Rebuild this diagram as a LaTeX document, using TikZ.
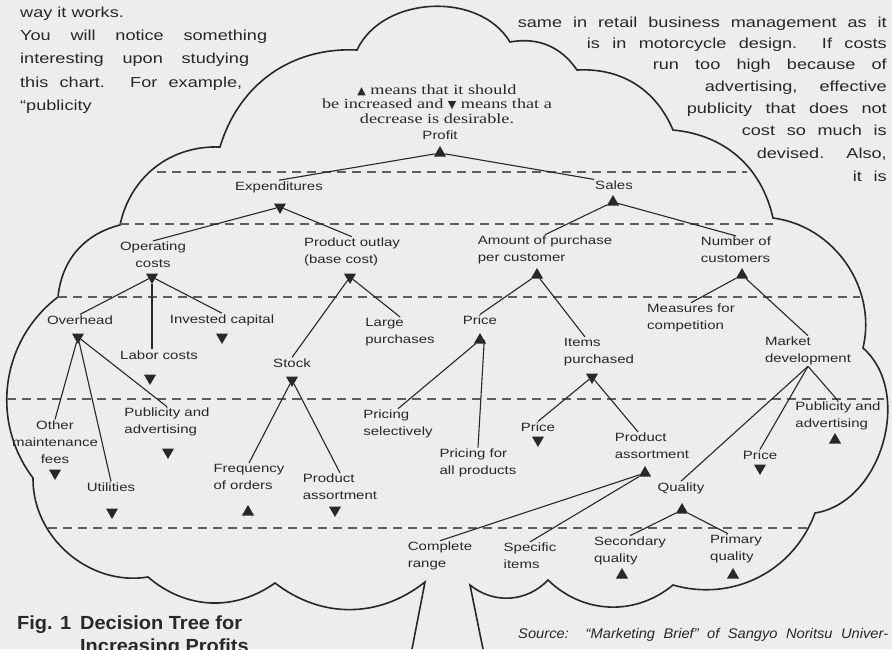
\documentclass[tikz,border=0pt]{standalone}
\usepackage{fontspec}
\setmainfont{Liberation Sans}[FakeStretch=1.25]
\newfontfamily\legendfont{Liberation Serif}[FakeStretch=1.3]
\newfontfamily\capfont{Liberation Sans}[FakeStretch=1.05]
\newfontfamily\symfont{DejaVu Sans}
\usetikzlibrary{shapes.geometric}

\definecolor{paper}{RGB}{237,237,235}
\definecolor{ink}{RGB}{40,40,40}

\begin{document}
\begin{tikzpicture}[x=1pt,y=-1pt,
  lbl/.style={font=\fontsize{12}{17}\selectfont,text=ink,inner sep=1pt,align=left},
  incr/.style={regular polygon,regular polygon sides=3,fill=ink,inner sep=0pt,minimum size=14pt},
  decr/.style={incr,shape border rotate=180},
  body/.style={font=\fontsize{14.5}{22}\selectfont,text=ink,inner sep=0pt},
  caption/.style={font=\capfont\bfseries\fontsize{19}{22}\selectfont,text=ink,inner sep=0pt},
  link/.style={draw=ink,line width=1.1pt},
  guide/.style={draw=ink!75,line width=1.2pt,dash pattern=on 9pt off 6pt},
  cloud/.style={draw=ink,line width=1.6pt}]

  \fill[paper] (0,0) rectangle (892,649);
  \useasboundingbox (0,0) rectangle (892,649);

  \draw[cloud] (412,649) -- (425,582)
    to[bend left=38] (275,583)
    to[bend left=38] (148,577)
    to[bend left=50] (33,478)
    to[bend left=45] (58,297)
    to[bend left=35] (120,225)
    to[bend left=40] (220,147)
    to[bend left=38] (357,50)
    to[bend left=62] (510,42)
    to[bend left=33] (577,70)
    to[bend left=35] (673,130)
    to[bend left=36] (773,218)
    to[bend left=48] (863,348)
    to[bend left=65] (815,513)
    to[bend left=43] (673,585)
    to[bend left=42] (548,580)
    to[bend left=43] (470,585)
    -- (483,649);

  \draw[guide] (157,172) -- (747,172);
  \draw[guide] (120,224) -- (773,224);
  \draw[guide] (58,297) -- (860,297);
  \draw[guide] (7,399) -- (884,399);
  \draw[guide] (48,528) -- (808,528);

  \node[lbl,align=center,font=\legendfont\fontsize{14}{14.5}\selectfont] (key) at (437,104)
    {{\symfont\fontsize{11}{11}\selectfont ▲} means that it should\\
     be increased and {\symfont\fontsize{11}{11}\selectfont ▼} means that a\\
     decrease is desirable.};

  \node[lbl] (profit) at (440,135) {Profit};
  \node[incr] (profitm) at (440,153) {};
  \node[lbl] (exp) at (279,187) {Expenditures};
  \node[decr] (expm) at (280,207) {};
  \node[lbl] (sales) at (614,185) {Sales};
  \node[incr] (salesm) at (613,202) {};

  \node[lbl,align=center] (opc) at (153,255) {Operating\\costs};
  \node[decr] (opcm) at (152,277) {};
  \node[lbl] (pout) at (352,252) {Product outlay\\(base cost)};
  \node[decr] (poutm) at (350,277) {};
  \node[lbl] (amt) at (545,250) {Amount of purchase\\per customer};
  \node[incr] (amtm) at (537,275) {};
  \node[lbl] (num) at (736,250) {Number of\\customers};
  \node[incr] (numm) at (742,275) {};

  \node[lbl] (ovh) at (80,320) {Overhead};
  \node[decr] (ovhm) at (78,337) {};
  \node[lbl] (lab) at (159,355) {Labor costs};
  \node[decr] (labm) at (150,378) {};
  \node[lbl] (inv) at (222,320) {Invested capital};
  \node[decr] (invm) at (222,337) {};
  \node[lbl] (stock) at (292,363) {Stock};
  \node[decr] (stockm) at (292,380) {};
  \node[lbl] (large) at (400,332) {Large\\purchases};
  \node[lbl] (price1) at (480,320) {Price};
  \node[incr] (price1m) at (480,340) {};
  \node[lbl] (items) at (599,352) {Items\\purchased};
  \node[decr] (itemsm) at (592,377) {};
  \node[lbl] (meas) at (691,318) {Measures for\\competition};
  \node[lbl] (mkt) at (808,351) {Market\\development};

  \node[lbl,align=center] (other) at (55,442) {Other\\maintenance\\fees};
  \node[decr] (otherm) at (55,473) {};
  \node[lbl] (pub1) at (167,422) {Publicity and\\advertising};
  \node[decr] (pub1m) at (168,452) {};
  \node[lbl] (util) at (111,487) {Utilities};
  \node[decr] (utilm) at (112,512) {};
  \node[lbl] (freq) at (249,477) {Frequency\\of orders};
  \node[incr] (freqm) at (248,512) {};
  \node[lbl] (pas1) at (340,487) {Product\\assortment};
  \node[decr] (pas1m) at (335,510) {};
  \node[lbl] (psel) at (398,424) {Pricing\\selectively};
  \node[lbl] (pall) at (478,463) {Pricing for\\all products};
  \node[lbl] (price2) at (538,427) {Price};
  \node[decr] (price2m) at (538,440) {};
  \node[lbl] (pas2) at (652,446) {Product\\assortment};
  \node[incr] (pas2m) at (645,473) {};
  \node[lbl] (price3) at (760,455) {Price};
  \node[decr] (price3m) at (760,468) {};
  \node[lbl] (pub2) at (838,416) {Publicity and\\advertising};
  \node[incr] (pub2m) at (835,440) {};
  \node[lbl] (qual) at (681,488) {Quality};
  \node[incr] (qualm) at (682,510) {};

  \node[lbl] (comp) at (440,556) {Complete\\range};
  \node[lbl] (spec) at (530,556) {Specific\\items};
  \node[lbl] (sec) at (630,551) {Secondary\\quality};
  \node[incr] (secm) at (622,575) {};
  \node[lbl] (prim) at (736,549) {Primary\\quality};
  \node[incr] (primm) at (733,575) {};

  \path[link]
    (profitm) edge (exp.north) edge (sales.north west)
    (expm) edge (opc.north) edge (pout.north)
    (salesm) edge (amt.north) edge (num.north)
    (opcm) edge (ovh.north) edge (opcm |- lab.north) edge (inv.north)
    (poutm) edge (stock.north) edge (large.north)
    (amtm) edge (price1.north) edge ([xshift=-14pt]items.north)
    (numm) edge (meas.north) edge (mkt.north)
    (ovhm) edge (other.north) edge (util.north) edge (pub1.north)
    (stockm) edge (freq.north) edge (pas1.north)
    (price1m) edge (psel.north)
    (price1m.east) edge (pall.north)
    (itemsm) edge (price2.north) edge ([xshift=-14pt]pas2.north)
    (mkt.south) edge (qual.north) edge (price3.north) edge (pub2.north)
    (pas2m) edge (comp.north) edge (spec.north)
    (qualm) edge (sec.north) edge ([xshift=-8pt]prim.north);

  \node[body,anchor=base west] (l1) at (20,17) {way it works.};
  \node[body,anchor=base west] (l2) at (20,40) {\makebox[247pt][s]{You will notice something}};
  \node[body,anchor=base west] (l3) at (20,63) {\makebox[229pt][s]{interesting upon studying}};
  \node[body,anchor=base west] (l4) at (20,87) {\makebox[222pt][s]{this chart. For example,}};
  \node[body,anchor=base west] (l5) at (20,110) {“publicity};

  \node[body,anchor=base east] (r1) at (887,27) {\makebox[369pt][s]{same in retail business management as it}};
  \node[body,anchor=base east] (r2) at (887,48) {\makebox[300pt][s]{is in motorcycle design.\ \ If costs}};
  \node[body,anchor=base east] (r3) at (887,69) {\makebox[234pt][s]{run too high because of}};
  \node[body,anchor=base east] (r4) at (887,91) {\makebox[182pt][s]{advertising, effective}};
  \node[body,anchor=base east] (r5) at (887,113) {\makebox[200pt][s]{publicity that does not}};
  \node[body,anchor=base east] (r6) at (887,135) {\makebox[145pt][s]{cost so much is}};
  \node[body,anchor=base east] (r7) at (887,158) {\makebox[130pt][s]{devised. Also,}};
  \node[body,anchor=base east] (r8) at (887,181) {\makebox[34pt][s]{it is}};

  \node[caption,anchor=base west] (fig) at (17,629) {Fig. 1};
  \node[caption,anchor=base west] (title1) at (80,629) {Decision Tree for};
  \node[caption,anchor=base west] (title2) at (80,652) {Increasing Profits};
  \node[body,anchor=base west,font=\capfont\itshape\fontsize{14}{16}\selectfont] (src) at (518,638)
    {\makebox[370pt][s]{Source:\ \ “Marketing Brief” of Sangyo Noritsu Univer-}};
\end{tikzpicture}
\end{document}
